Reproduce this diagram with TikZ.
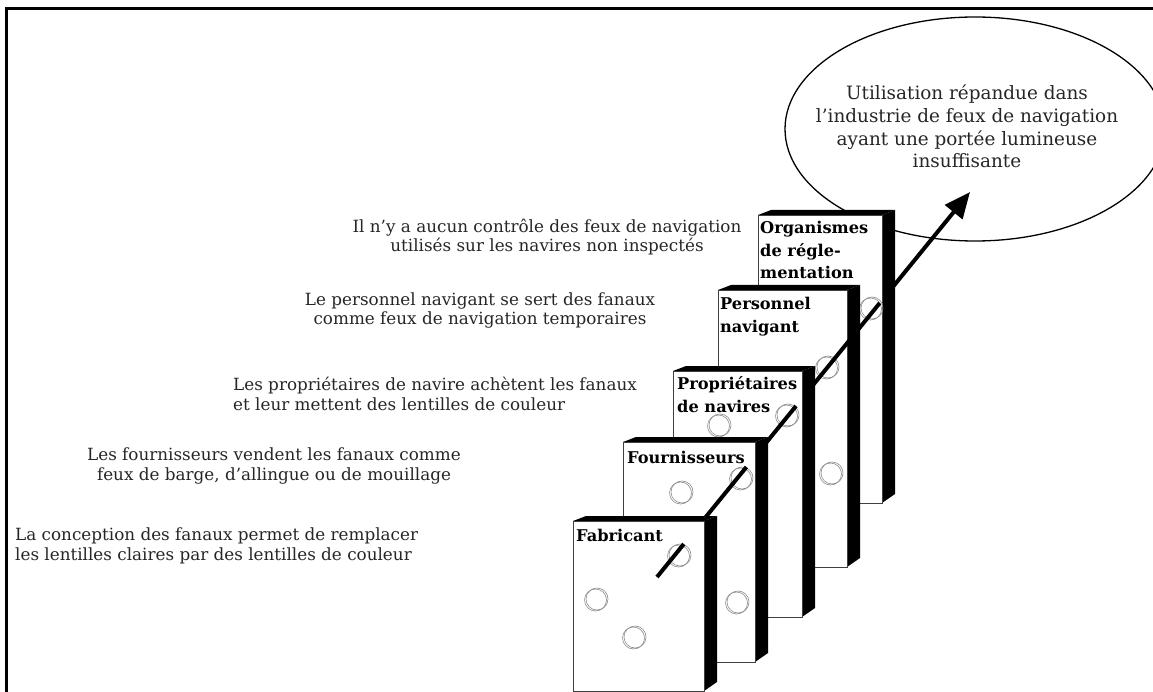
\documentclass[tikz,border=0pt]{standalone}
\usepackage{fontspec}
\setmainfont{DejaVu Serif}
\usetikzlibrary{arrows.meta,calc}
\newcommand{\slabbox}[4]{%
  \fill[black] (#1,#2) -- ({#1+13},{#2-5}) -- ({#3+13},{#2-5}) -- (#3,#2) -- cycle;
  \fill[black] (#3,#2) -- ({#3+13},{#2-5}) -- ({#3+13},{#4-9}) -- (#3,#4) -- cycle;
  \draw[face] (#1,#2) rectangle (#3,#4);}
\newcommand{\holeat}[2]{%
  \draw[hole] (#1,#2) circle[radius=11];
  \draw[hole] ({#1-1.5},{#2+1}) circle[radius=11];}
\begin{document}
\begin{tikzpicture}[x=1pt,y=-1pt,
  frame/.style={line width=3pt},
  face/.style={fill=white,draw=black!75,line width=0.8pt},
  hole/.style={draw=black!45,line width=0.6pt},
  ray/.style={line width=4pt},
  desc/.style={font=\fontsize{16.8}{19.5}\selectfont,inner sep=0pt,text=black!85},
  lab/.style={font=\fontsize{16.2}{22.5}\selectfont\bfseries,inner sep=0pt,align=left,anchor=base west},
  bubble/.style={line width=1.3pt}
]
\useasboundingbox (0,0) rectangle (1153,692);
\draw[frame] (6.5,692) -- (6.5,8.7) -- (1153,8.7);

\draw[bubble] (975,129) ellipse[x radius=190, y radius=112];
\node[font=\fontsize{18.4}{22.7}\selectfont,align=center,anchor=base,inner sep=0pt,text=black!85] (outtext) at (967,168)
  {Utilisation répandue dans\\l’industrie de feux de navigation\\ayant une portée lumineuse\\insuffisante};

\coordinate (A) at (657,577);
\coordinate (B) at (970,192);
\coordinate (c1) at ($(A)!0.0857!(B)$);
\coordinate (c2) at ($(A)!0.2857!(B)$);
\coordinate (c3) at ($(A)!0.4442!(B)$);
\coordinate (c4) at ($(A)!0.6182!(B)$);
\coordinate (c5) at ($(A)!0.7117!(B)$);

\draw[ray,-{Triangle[length=26pt,width=22pt]}] (c4) -- (B);

\slabbox{758}{215}{882}{503}
\holeat{872}{308}
\node[lab] (l5) at (760,279) {Organismes\\de régle-\\mentation};
\draw[ray] (c3) -- (c5);

\slabbox{718}{290}{847}{567}
\holeat{828}{367}
\holeat{832}{473}
\node[lab] (l4) at (720,332) {Personnel\\navigant};
\draw[ray] (c2) -- (c4);

\slabbox{673}{371}{802}{617}
\holeat{788}{415}
\holeat{720}{425}
\node[lab] (l3) at (677,412) {Propriétaires\\de navires};
\draw[ray] (c1) -- (c3);

\slabbox{623}{442}{755}{662}
\holeat{742}{478}
\holeat{682}{492}
\holeat{738}{602}
\node[lab] (l2) at (627,463) {Fournisseurs};
\draw[ray] (A) -- (c2);

\slabbox{573}{521}{704}{691}
\holeat{680}{555}
\holeat{597}{599}
\holeat{635}{637}
\node[lab] (l1) at (576,541) {Fabricant};
\draw[ray] (A) -- (c1);

\node[desc,align=center,anchor=base] (t5) at (547,252) {Il n’y a aucun contrôle des feux de navigation\\utilisés sur les navires non inspectés};
\node[desc,align=center,anchor=base] (t4) at (480,325) {Le personnel navigant se sert des fanaux\\comme feux de navigation temporaires};
\node[desc,align=left,anchor=base west] (t3) at (233,410) {Les propriétaires de navire achètent les fanaux\\et leur mettent des lentilles de couleur};
\node[desc,align=center,anchor=base] (t2) at (274,480) {Les fournisseurs vendent les fanaux comme\\feux de barge, d’allingue ou de mouillage};
\node[desc,align=left,anchor=base west] (t1) at (15,560) {La conception des fanaux permet de remplacer\\les lentilles claires par des lentilles de couleur};
\end{tikzpicture}
\end{document}
